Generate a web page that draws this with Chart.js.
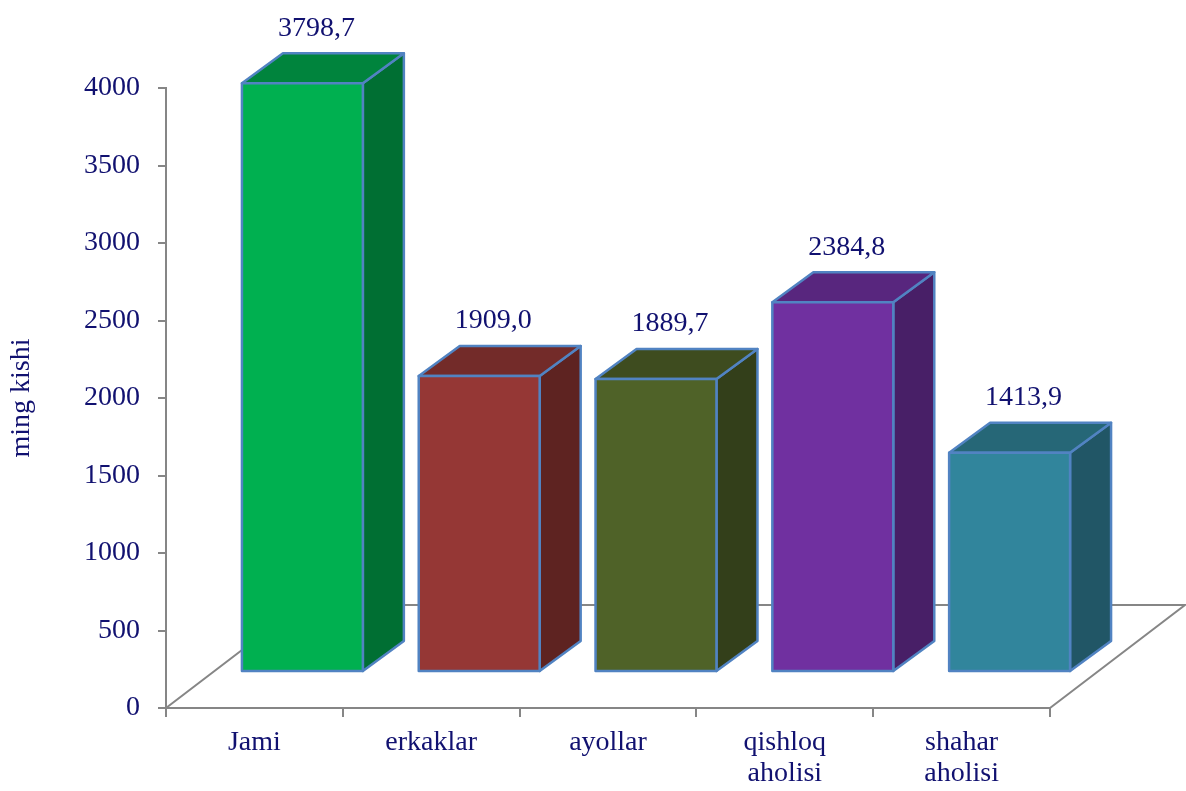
<!DOCTYPE html>
<html>
<head>
<meta charset="utf-8">
<title>ming kishi</title>
<script src="https://cdn.jsdelivr.net/npm/chart.js@4.4.1/dist/chart.umd.min.js"></script>
<style>
  body { margin: 0; background: #fff; }
  #wrap { width: 1186px; height: 791px; }
</style>
</head>
<body>
<div id="wrap"><canvas id="chart"></canvas></div>
<script>
// data
const categories = ["Jami", "erkaklar", "ayollar", ["qishloq", "aholisi"], ["shahar", "aholisi"]];
const values = [3798.7, 1909.0, 1889.7, 2384.8, 1413.9];
const valueLabels = ["3798,7", "1909,0", "1889,7", "2384,8", "1413,9"];
const yTicks = [0, 500, 1000, 1500, 2000, 2500, 3000, 3500, 4000];

// colours per bar: front, top, side
const frontColors = ["#00B050", "#953735", "#4F6228", "#7030A0", "#31859C"];
const topColors = ["#00843D", "#732B29", "#3E4C1F", "#58267E", "#266777"];
const sideColors = ["#006F33", "#5E2321", "#333F1A", "#481F67", "#215666"];

const textColor = "#111170";
const axisColor = "#868686";
const edgeColor = "#5183C2";
const fontFamily = "'Liberation Serif', 'Times New Roman', serif";

// 3d look
const OFF_X = 48, OFF_Y = -36;     // bar front face offset from the floor front edge
const DEPTH_X = 41, DEPTH_Y = -30; // bar depth
const FLOOR_X = 135, FLOOR_Y = -103;

const floorPlugin = {
  id: "floor",
  beforeDatasetsDraw(chart) {
    const ctx = chart.ctx;
    const a = chart.chartArea;
    ctx.save();
    ctx.strokeStyle = axisColor;
    ctx.lineWidth = 2;
    ctx.beginPath();
    ctx.moveTo(a.left, a.bottom);
    ctx.lineTo(a.left + FLOOR_X, a.bottom + FLOOR_Y);
    ctx.lineTo(a.right + FLOOR_X, a.bottom + FLOOR_Y);
    ctx.lineTo(a.right, a.bottom);
    ctx.stroke();
    ctx.restore();
  }
};

function poly(ctx, pts, fill) {
  ctx.beginPath();
  ctx.moveTo(pts[0][0], pts[0][1]);
  for (let i = 1; i < pts.length; i++) ctx.lineTo(pts[i][0], pts[i][1]);
  ctx.closePath();
  ctx.fillStyle = fill;
  ctx.fill();
  ctx.stroke();
}

const bars3dPlugin = {
  id: "bars3d",
  afterDatasetsDraw(chart) {
    const ctx = chart.ctx;
    const meta = chart.getDatasetMeta(0);
    ctx.save();
    ctx.strokeStyle = edgeColor;
    ctx.lineWidth = 2.5;
    ctx.lineJoin = "round";
    meta.data.forEach((bar, i) => {
      const p = bar.getProps(["x", "y", "base", "width"], true);
      const l = p.x - p.width / 2 + OFF_X;
      const r = p.x + p.width / 2 + OFF_X;
      const t = p.y + OFF_Y;
      const b = p.base + OFF_Y;
      // side
      poly(ctx, [[r, t], [r + DEPTH_X, t + DEPTH_Y], [r + DEPTH_X, b + DEPTH_Y], [r, b]], sideColors[i]);
      // top
      poly(ctx, [[l, t], [l + DEPTH_X, t + DEPTH_Y], [r + DEPTH_X, t + DEPTH_Y], [r, t]], topColors[i]);
      // front
      poly(ctx, [[l, t], [r, t], [r, b], [l, b]], frontColors[i]);

      // value label
      ctx.fillStyle = textColor;
      ctx.font = "28px " + fontFamily;
      ctx.textAlign = "center";
      ctx.textBaseline = "middle";
      ctx.fillText(valueLabels[i], p.x + OFF_X + 14, t - 55);
    });
    ctx.restore();
  }
};

new Chart(document.getElementById("chart"), {
  type: "bar",
  data: {
    labels: categories,
    datasets: [{
      data: values,
      backgroundColor: "rgba(0,0,0,0)",
      borderWidth: 0,
      barPercentage: 0.684,
      categoryPercentage: 1
    }]
  },
  options: {
    responsive: true,
    maintainAspectRatio: false,
    animation: false,
    layout: { padding: { top: 88, right: 136, left: 0, bottom: 0 } },
    plugins: {
      legend: { display: false },
      tooltip: { enabled: false }
    },
    scales: {
      x: {
        afterFit(scale) { scale.height = 83; },
        grid: {
          display: true,
          drawOnChartArea: false,
          drawTicks: true,
          tickLength: 9,
          color: axisColor,
          lineWidth: 2,
          offset: true
        },
        border: { display: true, color: axisColor, width: 2 },
        ticks: {
          color: textColor,
          padding: 10,
          maxRotation: 0,
          autoSkip: false,
          font: { family: fontFamily, size: 28, lineHeight: 1.1 }
        }
      },
      y: {
        min: 0,
        max: 4000,
        afterFit(scale) { scale.width = 166; },
        afterBuildTicks(scale) { scale.ticks = yTicks.map(v => ({ value: v })); },
        grid: {
          drawOnChartArea: false,
          drawTicks: true,
          tickLength: 8,
          color: axisColor,
          lineWidth: 2
        },
        border: { display: true, color: axisColor, width: 2 },
        ticks: {
          color: textColor,
          padding: 18,
          font: { family: fontFamily, size: 28 },
          callback: (v) => String(v)
        },
        title: {
          display: true,
          text: "ming kishi",
          color: textColor,
          padding: { top: 5, bottom: 0 },
          font: { family: fontFamily, size: 28, lineHeight: 1.2 }
        }
      }
    }
  },
  plugins: [floorPlugin, bars3dPlugin]
});
</script>
</body>
</html>
